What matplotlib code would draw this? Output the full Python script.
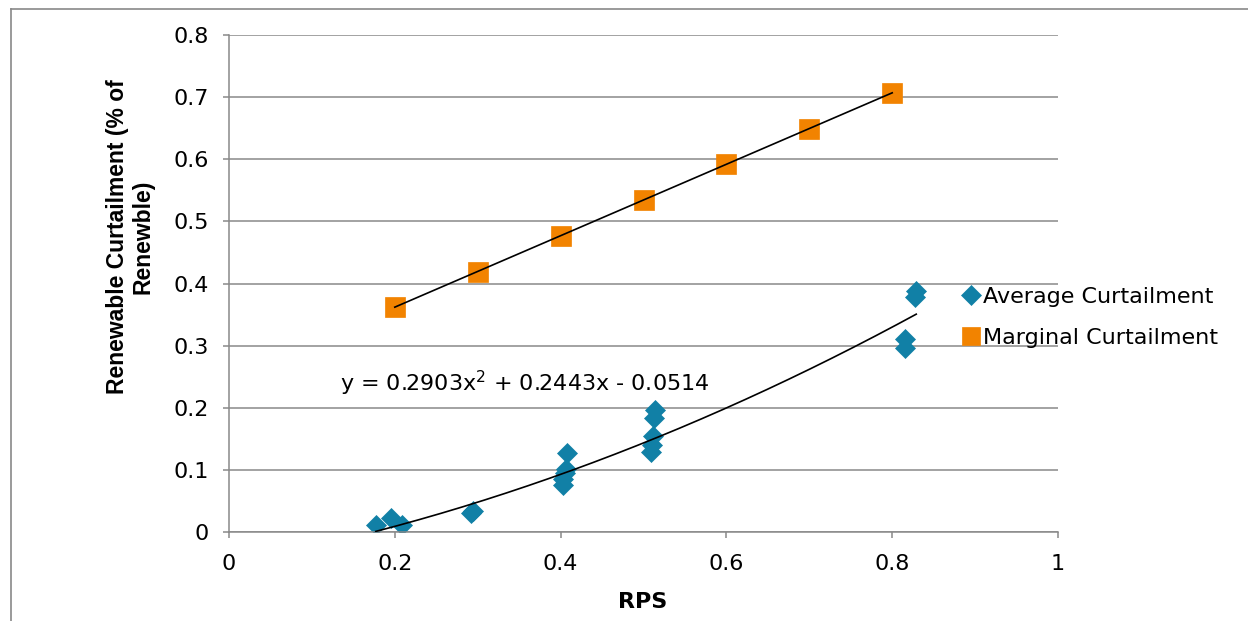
import numpy as np
import matplotlib
matplotlib.use("Agg")
import matplotlib.pyplot as plt
from matplotlib.lines import Line2D

# RPS level vs. observed average curtailment (share of renewable output)
avg_rps = [0.177, 0.195, 0.209, 0.292, 0.294,
           0.403, 0.403, 0.405, 0.407, 0.408,
           0.509, 0.510, 0.511, 0.513, 0.514,
           0.816, 0.816, 0.828, 0.829]
avg_curt = [0.011, 0.022, 0.011, 0.030, 0.034,
            0.075, 0.085, 0.095, 0.102, 0.127,
            0.128, 0.140, 0.155, 0.184, 0.197,
            0.296, 0.311, 0.378, 0.388]

# RPS level vs. marginal curtailment
marg_rps = [0.2, 0.3, 0.4, 0.5, 0.6, 0.7, 0.8]
marg_curt = [0.362, 0.419, 0.477, 0.535, 0.592, 0.649, 0.707]

# Quadratic trend for the average series
poly_coef = [0.2903, 0.2443, -0.0514]
eq_label = r"y = 0.2903x$^2$ + 0.2443x - 0.0514"

x_ticks = [0, 0.2, 0.4, 0.6, 0.8, 1]
x_tick_labels = ["0", "0.2", "0.4", "0.6", "0.8", "1"]
y_ticks = [0, 0.1, 0.2, 0.3, 0.4, 0.5, 0.6, 0.7, 0.8]
y_tick_labels = ["0", "0.1", "0.2", "0.3", "0.4", "0.5", "0.6", "0.7", "0.8"]

TEAL = "#1180A6"
ORANGE = "#F28300"
GRID = "#898989"
FS = 16

W, H = 1248, 621
fig = plt.figure(figsize=(W / 100, H / 100), dpi=100)
ax = fig.add_axes([229 / W, 1 - 532 / H, (1058 - 229) / W, (532 - 35) / H])

# outer chart frame (left and top edges)
fx, fy = 10.5 / W, 1 - 8.5 / H
fig.add_artist(Line2D([fx, fx], [0, fy], transform=fig.transFigure,
                      color=GRID, linewidth=1.2))
fig.add_artist(Line2D([fx, 1], [fy, fy], transform=fig.transFigure,
                      color=GRID, linewidth=1.2))

ax.set_xlim(0, 1)
ax.set_ylim(0, 0.8)
ax.set_yticks(y_ticks)
ax.set_yticklabels(y_tick_labels)
ax.set_xticks(x_ticks)
ax.set_xticklabels(x_tick_labels)
ax.yaxis.grid(True, color=GRID, linewidth=1.1)
ax.set_axisbelow(True)
for side in ("top", "right"):
    ax.spines[side].set_visible(False)
for side in ("left", "bottom"):
    ax.spines[side].set_color(GRID)
    ax.spines[side].set_linewidth(1.1)
ax.tick_params(axis="both", direction="out", length=4.5, width=1.1,
               color=GRID, labelsize=FS, labelcolor="black")
ax.tick_params(axis="y", pad=10)
ax.tick_params(axis="x", pad=11)
for lab in ax.get_xticklabels() + ax.get_yticklabels():
    lab.set_family("DejaVu Sans")

# trend lines
xa = np.linspace(min(avg_rps), max(avg_rps), 200)
ax.plot(xa, np.polyval(poly_coef, xa), color="black", lw=1.2, zorder=3)
lin = np.polyfit(marg_rps, marg_curt, 1)
xm = np.array([min(marg_rps), max(marg_rps)])
ax.plot(xm, np.polyval(lin, xm), color="black", lw=1.2, zorder=3)

# data series
ax.plot(avg_rps, avg_curt, linestyle="none", marker="D", markersize=10.5,
        color=TEAL, markeredgecolor=TEAL, markeredgewidth=0.5, zorder=2,
        label="Average Curtailment")
ax.plot(marg_rps, marg_curt, linestyle="none", marker="s", markersize=14,
        color=ORANGE, markeredgecolor=ORANGE, markeredgewidth=0.5, zorder=2,
        label="Marginal Curtailment")

ax.text(0.134, 0.240, eq_label, fontsize=FS, family="DejaVu Sans",
        ha="left", va="center")

fig.text(130 / W, 1 - 237 / H, "Renewable Curtailment (% of\nRenewble)",
         rotation=90, ha="center", va="center", multialignment="center",
         fontsize=16.5, fontweight="bold", family="Liberation Sans",
         linespacing=1.15)
fig.text(643 / W, 1 - 602 / H, "RPS", ha="center", va="center",
         fontsize=FS, fontweight="bold", family="DejaVu Sans")

leg = fig.legend(loc="center left", bbox_to_anchor=(962 / W, 1 - 317.5 / H),
                 frameon=False, prop={"family": "DejaVu Sans", "size": FS},
                 handlelength=0.8, handletextpad=0.15, borderpad=0,
                 borderaxespad=0, labelspacing=0.95, markerscale=0.95)

fig.savefig("out.png", dpi=100)
